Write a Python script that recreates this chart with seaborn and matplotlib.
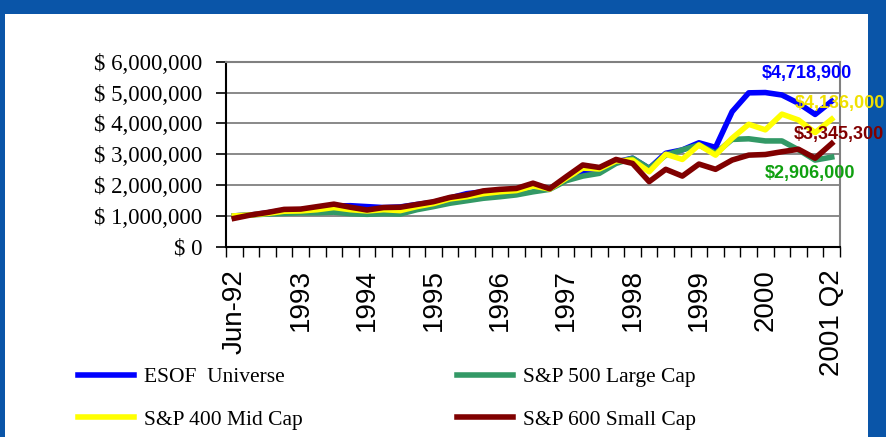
import numpy as np
import pandas as pd
import matplotlib
matplotlib.use("Agg")
import matplotlib.pyplot as plt
from matplotlib.patches import Rectangle
from matplotlib.lines import Line2D
import seaborn as sns

# quarterly values, Jun-92 .. 2001 Q2 (37 quarters)
quarters = list(range(37))
tick_labels = ["Jun-92", "1993", "1994", "1995", "1996", "1997",
               "1998", "1999", "2000", "2001 Q2"]

esof = [1.00, 1.03, 1.10, 1.18, 1.20, 1.26, 1.32, 1.33, 1.30, 1.27, 1.29, 1.37,
        1.44, 1.58, 1.72, 1.78, 1.82, 1.86, 2.00, 1.88, 2.20, 2.45, 2.48, 2.75,
        2.87, 2.54, 3.03, 3.14, 3.37, 3.22, 4.38, 4.99, 5.00, 4.92, 4.65, 4.29, 4.7189]
sp500 = [1.00, 1.03, 1.06, 1.08, 1.10, 1.10, 1.12, 1.07, 1.05, 1.07, 1.06, 1.20,
         1.30, 1.41, 1.49, 1.57, 1.62, 1.68, 1.78, 1.86, 2.14, 2.29, 2.38, 2.70,
         2.87, 2.54, 2.97, 3.14, 3.30, 3.03, 3.48, 3.50, 3.43, 3.43, 3.14, 2.81, 2.906]
sp400 = [1.00, 1.03, 1.08, 1.15, 1.16, 1.20, 1.27, 1.20, 1.16, 1.20, 1.17, 1.30,
         1.40, 1.55, 1.62, 1.72, 1.78, 1.82, 1.97, 1.87, 2.22, 2.55, 2.52, 2.78,
         2.81, 2.43, 3.00, 2.83, 3.30, 2.97, 3.52, 3.97, 3.79, 4.30, 4.11, 3.70, 4.136]
sp600 = [0.92, 1.03, 1.11, 1.21, 1.22, 1.30, 1.38, 1.28, 1.19, 1.27, 1.28, 1.37,
         1.46, 1.60, 1.68, 1.81, 1.86, 1.89, 2.06, 1.88, 2.27, 2.65, 2.57, 2.83,
         2.70, 2.11, 2.51, 2.29, 2.68, 2.51, 2.81, 2.97, 2.99, 3.08, 3.16, 2.87, 3.3453]

series_names = ["ESOF  Universe", "S&P 500 Large Cap", "S&P 400 Mid Cap", "S&P 600 Small Cap"]
final_values = [4718900, 2906000, 4136000, 3345300]
line_colors = ["#0000FF", "#339966", "#FFFF00", "#800000"]
label_colors = ["#0000FF", "#10A010", "#F0E000", "#800000"]

# long-form table for seaborn
rows = []
for name, vals in zip(series_names, [esof, sp500, sp400, sp600]):
    for q, v in zip(quarters, vals):
        rows.append({"quarter": q, "value": v * 1e6, "series": name})
df = pd.DataFrame(rows)

fig = plt.figure(figsize=(8.87, 4.37), dpi=100)
fig.patch.set_facecolor("#0a55a8")
fig.patches.append(Rectangle((5 / 887, 0), 863 / 887, 423 / 437,
                             transform=fig.transFigure, facecolor="white",
                             edgecolor="none", zorder=-1))

ax = fig.add_axes([226 / 887, 1 - 246.7 / 437, 614 / 887, 185 / 437])
ax.set_facecolor("white")

palette = dict(zip(series_names, line_colors))
sns.lineplot(data=df, x="quarter", y="value", hue="series", hue_order=series_names,
             palette=palette, linewidth=4, ax=ax, legend=False)

ax.set_xlim(-0.5, 36.5)
ax.set_ylim(0, 6e6)
ax.set_xlabel("")
ax.set_ylabel("")

yt = np.arange(0, 6e6 + 1, 1e6)
ax.set_yticks(yt)
ax.set_yticklabels(["$ 0"] + ["$ {:,.0f}".format(v) for v in yt[1:]],
                   family="Liberation Serif", fontsize=16.5)
ax.yaxis.grid(True, color="#808080", linewidth=1.3)
ax.set_axisbelow(True)
ax.tick_params(axis="y", direction="out", length=7, width=1.2, pad=10)

ax.set_xticks(quarters[::4])
ax.set_xticklabels(tick_labels, rotation=90, family="Liberation Sans", fontsize=20)
ax.set_xticks(np.arange(-0.5, 37, 1), minor=True)
ax.tick_params(axis="x", which="major", length=0, pad=16)
ax.tick_params(axis="x", which="minor", direction="out", length=7, width=1.0)

for s in ["left", "bottom"]:
    ax.spines[s].set_color("black")
    ax.spines[s].set_linewidth(1.5)
for s in ["top", "right"]:
    ax.spines[s].set_color("#808080")
    ax.spines[s].set_linewidth(1.5)

# value labels at the last quarter
offsets = [(-70, 28), (-67, -16), (-37, 16), (-38, 9)]
for vals, fv, col, off in zip([esof, sp500, sp400, sp600], final_values, label_colors, offsets):
    ax.annotate("${:,.0f}".format(fv), xy=(quarters[-1], vals[-1] * 1e6),
                xytext=off, textcoords="offset pixels", ha="left", va="center",
                color=col, fontsize=13, fontweight="bold", family="Liberation Sans",
                annotation_clip=False)

handles = [Line2D([0], [0], color=palette[n], linewidth=4) for n in series_names]
order = [0, 2, 1, 3]
fig.legend([handles[i] for i in order], [series_names[i] for i in order],
           loc="upper left", bbox_to_anchor=(78 / 887, 1 - 367 / 437), ncol=2,
           frameon=False, prop={"family": "Liberation Serif", "size": 15.5},
           handlelength=2.6, handletextpad=0.45, columnspacing=7.2,
           labelspacing=1.05, borderpad=0, borderaxespad=0)

fig.savefig("out.png", dpi=100, facecolor=fig.get_facecolor())
